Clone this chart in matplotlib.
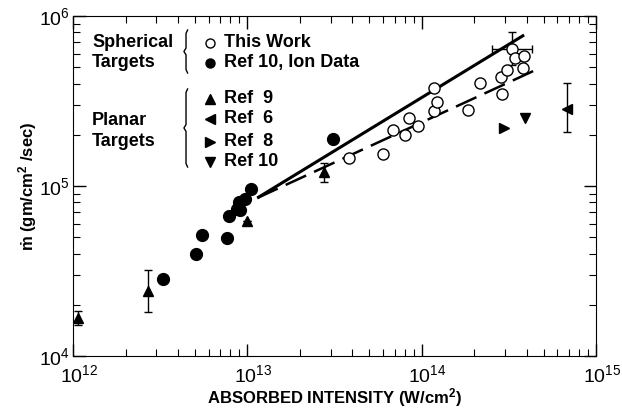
import numpy as np
import matplotlib
matplotlib.use("Agg")
import matplotlib.pyplot as plt
import matplotlib.transforms as mtransforms

plt.rcParams['font.family'] = ['Liberation Sans', 'DejaVu Sans']
plt.rcParams['mathtext.fontset'] = 'custom'
plt.rcParams['mathtext.rm'] = 'Liberation Sans'
plt.rcParams['mathtext.bf'] = 'Liberation Sans:bold'
plt.rcParams['mathtext.default'] = 'regular'

# This Work (spherical, open circles)
work_x = [3.83e13, 6.01e13, 6.85e13, 8.04e13, 8.47e13, 9.53e13, 1.18e14, 1.22e14, 1.18e14,
          1.85e14, 2.16e14, 2.89e14, 2.86e14, 3.09e14, 3.31e14, 3.44e14, 3.87e14, 3.82e14]
work_y = [1.46e5, 1.54e5, 2.14e5, 1.99e5, 2.51e5, 2.25e5, 2.76e5, 3.12e5, 3.77e5,
          2.8e5, 4.04e5, 3.48e5, 4.37e5, 4.81e5, 6.4e5, 5.66e5, 5.82e5, 4.94e5]
# error bars on one point of This Work
work_err_x = 3.31e14
work_err_y = 6.4e5
work_err_xlim = [2.53e14, 4.3e14]
work_err_ylim = [5.15e5, 8.05e5]

# Ref 10, ion data (spherical, filled circles)
ion_x = [3.28e12, 5.08e12, 5.5e12, 7.66e12, 7.85e12, 8.73e12, 9.08e12, 8.96e12, 9.7e12, 1.05e13, 3.1e13]
ion_y = [2.84e4, 3.98e4, 5.15e4, 4.94e4, 6.67e4, 7.33e4, 7.23e4, 8.05e4, 8.39e4, 9.6e4, 1.89e5]

# Ref 9 (planar, up triangles) with vertical error limits
ref9_x = [1.07e12, 2.69e12, 9.96e12, 2.76e13]
ref9_y = [1.67e4, 2.41e4, 6.22e4, 1.21e5]
ref9_lo = [1.52e4, 1.81e4, 6.22e4, 1.06e5]
ref9_hi = [1.84e4, 3.2e4, 6.22e4, 1.36e5]

# Ref 6, Ref 8, Ref 10 planar
ref6_x, ref6_y, ref6_lo, ref6_hi = [6.82e14], [2.84e5], [2.08e5], [4.04e5]
ref8_x, ref8_y = [2.97e14], [2.19e5]
ref10_x, ref10_y = [3.92e14], [2.51e5]

# fit lines (end points)
solid_x = [1.14e13, 3.87e14]
solid_y = [8.5e4, 7.73e5]
dash_x = [1.14e13, 4.36e14]
dash_y = [8.5e4, 4.74e5]

fig = plt.figure(figsize=(6.22, 4.08), dpi=100)
ax = fig.add_axes([0.1174, 0.1275, 0.8408, 0.8333])
ax.set_xscale('log')
ax.set_yscale('log')
ax.set_xlim(1e12, 1e15)
ax.set_ylim(1e4, 1e6)

ax.plot(solid_x, solid_y, color='black', lw=2.2, solid_capstyle='butt')
ax.plot(dash_x, dash_y, color='black', lw=1.8, dashes=(9, 3.5))

ax.errorbar([work_err_x], [work_err_y],
            xerr=[[work_err_x - work_err_xlim[0]], [work_err_xlim[1] - work_err_x]],
            yerr=[[work_err_y - work_err_ylim[0]], [work_err_ylim[1] - work_err_y]],
            fmt='none', ecolor='black', elinewidth=1, capsize=3)
ax.plot(work_x, work_y, 'o', ms=8, mfc='white', mec='black', mew=1, ls='none', zorder=3)
ax.plot(ion_x, ion_y, 'o', ms=8.5, color='black', ls='none', zorder=3)

r9y = np.array(ref9_y)
ax.errorbar(ref9_x, ref9_y, yerr=[r9y - np.array(ref9_lo), np.array(ref9_hi) - r9y],
            fmt='^', ms=7.5, color='black', elinewidth=1, capsize=3)
r6y = np.array(ref6_y)
ax.errorbar(ref6_x, ref6_y, yerr=[r6y - np.array(ref6_lo), np.array(ref6_hi) - r6y],
            fmt='<', ms=7.5, color='black', elinewidth=1, capsize=3)
ax.plot(ref8_x, ref8_y, '>', ms=7.5, color='black', ls='none')
ax.plot(ref10_x, ref10_y, 'v', ms=7.5, color='black', ls='none')

ax.tick_params(which='both', direction='in', top=True, right=True, labelsize=14)
ax.tick_params(which='major', length=9, width=1)
ax.tick_params(which='minor', length=5, width=0.8)
ax.tick_params(axis='x', pad=6)
ax.tick_params(axis='y', pad=2)

# x tick labels sit a little right of their ticks in the original
shift = mtransforms.ScaledTranslation(6 / 100, 0, fig.dpi_scale_trans)
for lbl in ax.get_xticklabels():
    lbl.set_transform(lbl.get_transform() + shift)

ax.set_xlabel(r'ABSORBED INTENSITY (W/cm$\mathbf{^2}$)', fontsize=12, fontweight='bold', labelpad=0)
ax.set_ylabel(r'ṁ (gm/cm$\mathbf{^2}$ /sec)', fontsize=12, fontweight='bold', labelpad=0)

# legend drawn as text
fs = 13
tr = ax.transAxes
def ax_pt(px, py):
    return ((px - 73) / 523, (356 - py) / 340)

for label, py in [('Spherical', 43), ('Targets', 63), ('Planar', 121), ('Targets', 142)]:
    ax.text(*ax_pt(92, py), label, transform=tr, fontsize=fs, fontweight='bold', va='center', ha='left')

entries = [('o', 'white', 'This Work', 43), ('o', 'black', 'Ref 10, Ion Data', 63),
           ('^', 'black', 'Ref  9', 99), ('<', 'black', 'Ref  6', 119),
           ('>', 'black', 'Ref  8', 142), ('v', 'black', 'Ref 10', 162)]
for m, fc, label, py in entries:
    ax.plot(*ax_pt(210, py), m, ms=6.5, mfc=fc, mec='black', mew=1, transform=tr, clip_on=False)
    ax.text(*ax_pt(224, py), label, transform=tr, fontsize=fs, fontweight='bold', va='center', ha='left')

for y0, y1 in [(30, 73), (89, 167)]:
    xa, ya = ax_pt(186, y0)
    _, yb = ax_pt(186, y1)
    ym = (ya + yb) / 2
    ax.plot([xa + 0.003, xa, xa, xa - 0.004, xa, xa, xa + 0.003],
            [ya, ya - 0.01, ym + 0.01, ym, ym - 0.01, yb + 0.01, yb],
            color='black', lw=1, transform=tr)

fig.savefig('out.png', dpi=100)
